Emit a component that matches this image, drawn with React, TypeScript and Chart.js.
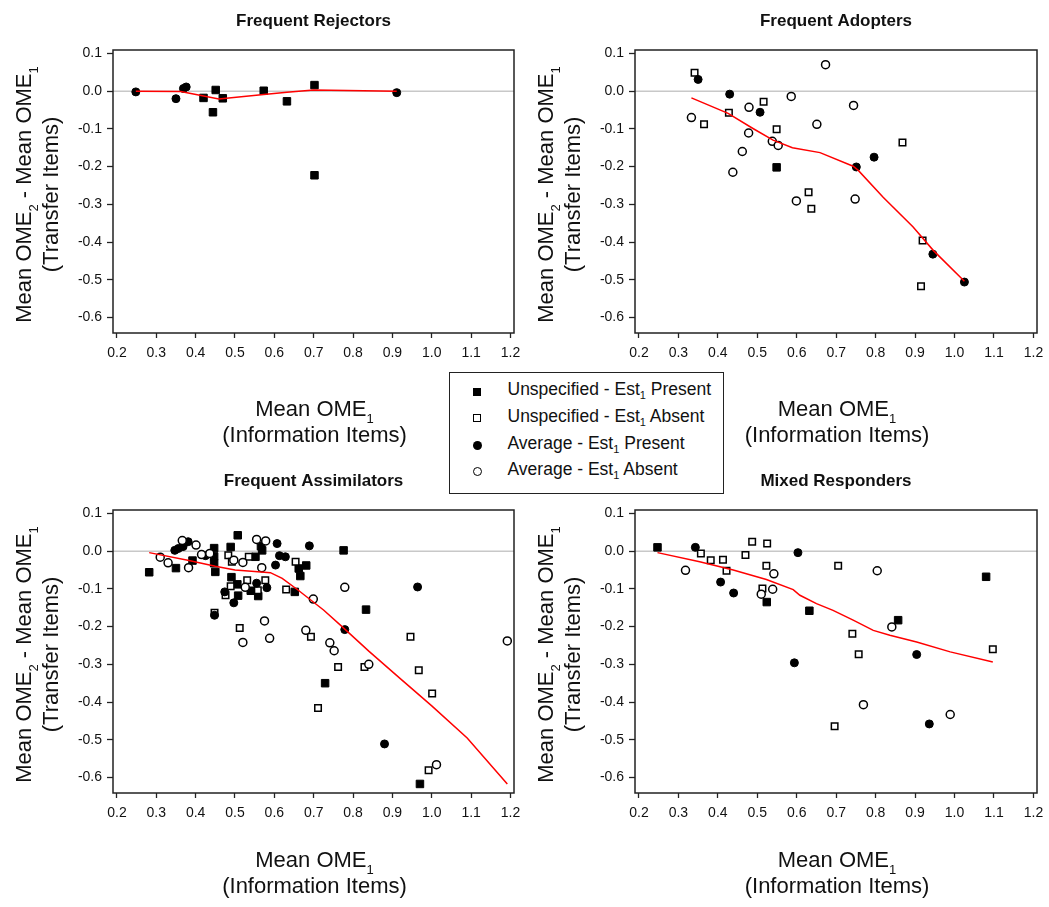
import React, { useEffect, useRef } from 'react';
import { Chart, registerables } from 'chart.js';

Chart.register(...registerables);

const FONT = '"Liberation Sans", Arial, Helvetica, sans-serif';

// ---------- axis ticks ----------
const xTickValues = [0.2, 0.3, 0.4, 0.5, 0.6, 0.7, 0.8, 0.9, 1.0, 1.1, 1.2];
const yTickValues = [0.1, 0.0, -0.1, -0.2, -0.3, -0.4, -0.5, -0.6];
const X_MIN = 0.19;
const X_MAX = 1.209;
const Y_MIN = -0.641;
const Y_MAX = 0.109;

// ---------- legend / titles ----------
const panelTitles = ['Frequent Rejectors', 'Frequent Adopters', 'Frequent Assimilators', 'Mixed Responders'];
const seriesKinds = ['Unspecified', 'Unspecified', 'Average', 'Average'];
const seriesStatus = ['Present', 'Absent', 'Present', 'Absent'];

type Pt = [number, number];

// ---------- Frequent Rejectors ----------
const rejUnspPresent: Pt[] = [[0.420, -0.018], [0.451, 0.003], [0.444, -0.056], [0.469, -0.019], [0.573, 0.001], [0.632, -0.027], [0.702, 0.016], [0.702, -0.223]];
const rejUnspAbsent: Pt[] = [];
const rejAvgPresent: Pt[] = [[0.248, -0.002], [0.350, -0.020], [0.369, 0.007], [0.376, 0.011], [0.911, -0.004]];
const rejAvgAbsent: Pt[] = [];
const rejLowess: Pt[] = [[0.248, 0.0], [0.362, -0.001], [0.459, -0.021], [0.573, -0.009], [0.632, -0.003], [0.700, 0.003], [0.911, 0.0]];

// ---------- Frequent Adopters ----------
const adoUnspPresent: Pt[] = [[0.549, -0.202]];
const adoUnspAbsent: Pt[] = [[0.341, 0.049], [0.365, -0.088], [0.428, -0.057], [0.516, -0.028], [0.549, -0.101], [0.630, -0.268], [0.637, -0.312], [0.868, -0.136], [0.919, -0.396], [0.915, -0.517]];
const adoAvgPresent: Pt[] = [[0.350, 0.031], [0.430, -0.008], [0.507, -0.056], [0.751, -0.201], [0.796, -0.175], [0.945, -0.432], [1.025, -0.506]];
const adoAvgAbsent: Pt[] = [[0.333, -0.070], [0.479, -0.043], [0.478, -0.111], [0.538, -0.133], [0.553, -0.144], [0.462, -0.160], [0.438, -0.215], [0.586, -0.014], [0.651, -0.088], [0.673, 0.070], [0.599, -0.291], [0.744, -0.038], [0.748, -0.286]];
const adoLowess: Pt[] = [[0.333, -0.018], [0.426, -0.059], [0.489, -0.099], [0.540, -0.130], [0.589, -0.150], [0.659, -0.163], [0.743, -0.199], [0.756, -0.210], [0.819, -0.281], [0.895, -0.360], [0.946, -0.422], [1.025, -0.504]];

// ---------- Frequent Assimilators ----------
const asmUnspPresent: Pt[] = [[0.282, -0.056], [0.350, -0.045], [0.392, -0.025], [0.447, 0.008], [0.447, -0.014], [0.447, -0.032], [0.450, -0.055], [0.489, 0.011], [0.507, 0.042], [0.552, -0.015], [0.566, 0.013], [0.569, 0.002], [0.662, -0.046], [0.681, -0.038], [0.666, -0.066], [0.776, 0.002], [0.833, -0.155], [0.729, -0.350], [0.970, -0.617], [0.491, -0.069], [0.506, -0.088], [0.508, -0.118], [0.540, -0.105], [0.559, -0.119], [0.652, -0.108]];
const asmUnspAbsent: Pt[] = [[0.483, -0.011], [0.492, -0.028], [0.535, -0.015], [0.654, -0.028], [0.489, -0.093], [0.476, -0.117], [0.531, -0.077], [0.558, -0.104], [0.577, -0.077], [0.630, -0.102], [0.448, -0.163], [0.512, -0.204], [0.693, -0.227], [0.762, -0.307], [0.829, -0.307], [0.711, -0.416], [0.946, -0.227], [0.967, -0.316], [1.001, -0.377], [0.992, -0.581]];
const asmAvgPresent: Pt[] = [[0.347, 0.002], [0.356, 0.007], [0.368, 0.012], [0.381, 0.025], [0.425, -0.012], [0.474, -0.108], [0.497, -0.137], [0.555, -0.085], [0.581, -0.097], [0.607, 0.020], [0.689, 0.014], [0.603, -0.037], [0.613, -0.012], [0.628, -0.015], [0.448, -0.170], [0.779, -0.208], [0.964, -0.095], [0.880, -0.511]];
const asmAvgAbsent: Pt[] = [[0.310, -0.016], [0.330, -0.031], [0.366, 0.028], [0.401, 0.016], [0.382, -0.044], [0.415, -0.009], [0.436, -0.006], [0.497, -0.024], [0.520, -0.030], [0.555, 0.031], [0.578, 0.027], [0.568, -0.044], [0.779, -0.096], [0.526, -0.096], [0.699, -0.127], [0.520, -0.242], [0.575, -0.185], [0.588, -0.231], [0.680, -0.210], [0.741, -0.243], [0.752, -0.264], [0.840, -0.300], [1.012, -0.566], [1.192, -0.238]];
const asmLowess: Pt[] = [[0.282, -0.004], [0.380, -0.024], [0.450, -0.040], [0.500, -0.050], [0.550, -0.054], [0.590, -0.057], [0.620, -0.072], [0.660, -0.103], [0.725, -0.156], [0.770, -0.198], [0.840, -0.265], [0.920, -0.338], [1.000, -0.410], [1.090, -0.495], [1.192, -0.617]];

// ---------- Mixed Responders ----------
const mixUnspPresent: Pt[] = [[0.247, 0.010], [0.524, -0.135], [0.632, -0.158], [0.857, -0.183], [1.080, -0.068]];
const mixUnspAbsent: Pt[] = [[0.357, -0.006], [0.382, -0.024], [0.413, -0.023], [0.422, -0.052], [0.470, -0.010], [0.487, 0.025], [0.525, 0.020], [0.523, -0.039], [0.513, -0.099], [0.705, -0.039], [0.696, -0.464], [0.741, -0.219], [0.757, -0.273], [1.097, -0.260]];
const mixAvgPresent: Pt[] = [[0.343, 0.010], [0.407, -0.082], [0.440, -0.111], [0.603, -0.004], [0.594, -0.296], [0.904, -0.274], [0.936, -0.458]];
const mixAvgAbsent: Pt[] = [[0.318, -0.051], [0.542, -0.060], [0.510, -0.114], [0.539, -0.101], [0.769, -0.407], [0.804, -0.052], [0.841, -0.201], [0.989, -0.433]];
const mixLowess: Pt[] = [[0.247, -0.004], [0.354, -0.028], [0.439, -0.050], [0.523, -0.075], [0.591, -0.102], [0.608, -0.117], [0.650, -0.139], [0.692, -0.157], [0.743, -0.183], [0.794, -0.210], [0.836, -0.223], [0.904, -0.241], [0.989, -0.267], [1.097, -0.294]];

// ---------- layout ----------
interface PanelDef {
  title: string;
  series: Pt[][]; // unspPresent, unspAbsent, avgPresent, avgAbsent
  lowess: Pt[];
  left: number; top: number; width: number; height: number;
  area: { l: number; t: number; r: number; b: number };
  xTitleOffset: number;
}

const X_AXIS_H = 30;

const panels: PanelDef[] = [
  { title: panelTitles[0], series: [rejUnspPresent, rejUnspAbsent, rejAvgPresent, rejAvgAbsent], lowess: rejLowess,
    left: 0, top: 0, width: 524, height: 453, area: { l: 113, t: 50, r: 514, b: 333 }, xTitleOffset: 83 },
  { title: panelTitles[1], series: [adoUnspPresent, adoUnspAbsent, adoAvgPresent, adoAvgAbsent], lowess: adoLowess,
    left: 524, top: 0, width: 525, height: 453, area: { l: 111, t: 50, r: 513, b: 333 }, xTitleOffset: 83 },
  { title: panelTitles[2], series: [asmUnspPresent, asmUnspAbsent, asmAvgPresent, asmAvgAbsent], lowess: asmLowess,
    left: 0, top: 453, width: 524, height: 454, area: { l: 113, t: 57, r: 514, b: 340 }, xTitleOffset: 74 },
  { title: panelTitles[3], series: [mixUnspPresent, mixUnspAbsent, mixAvgPresent, mixAvgAbsent], lowess: mixLowess,
    left: 524, top: 453, width: 525, height: 454, area: { l: 111, t: 57, r: 513, b: 340 }, xTitleOffset: 74 },
];

type Part = { t: string; sub?: boolean };
const yTitle1: Part[] = [{ t: 'Mean OME' }, { t: '2', sub: true }, { t: ' - Mean OME' }, { t: '1', sub: true }];
const yTitle2: Part[] = [{ t: '(Transfer Items)' }];
const xTitle1: Part[] = [{ t: 'Mean OME' }, { t: '1', sub: true }];
const xTitle2: Part[] = [{ t: '(Information Items)' }];

function drawRich(ctx: CanvasRenderingContext2D, parts: Part[], x: number, y: number) {
  const main = `22px ${FONT}`;
  const sub = `13px ${FONT}`;
  let total = 0;
  for (const p of parts) {
    ctx.font = p.sub ? sub : main;
    total += ctx.measureText(p.t).width;
  }
  let cx = x - total / 2;
  ctx.textAlign = 'left';
  ctx.textBaseline = 'alphabetic';
  for (const p of parts) {
    ctx.font = p.sub ? sub : main;
    ctx.fillText(p.t, cx, p.sub ? y + 7 : y);
    cx += ctx.measureText(p.t).width;
  }
}

function makeDecor(p: PanelDef) {
  return {
    id: 'decor',
    beforeDatasetsDraw(chart: any) {
      const { ctx, chartArea } = chart;
      const y0 = chart.scales.y.getPixelForValue(0);
      ctx.save();
      ctx.strokeStyle = '#c8c8c8';
      ctx.lineWidth = 1.5;
      ctx.beginPath();
      ctx.moveTo(chartArea.left, y0);
      ctx.lineTo(chartArea.right, y0);
      ctx.stroke();
      ctx.restore();
    },
    afterDraw(chart: any) {
      const { ctx, chartArea } = chart;
      ctx.save();
      ctx.strokeStyle = '#222';
      ctx.lineWidth = 1.5;
      ctx.strokeRect(chartArea.left, chartArea.top, chartArea.right - chartArea.left, chartArea.bottom - chartArea.top);
      ctx.fillStyle = '#111';
      // panel title
      const cx = (chartArea.left + chartArea.right) / 2;
      ctx.font = `bold 17px ${FONT}`;
      ctx.textAlign = 'center';
      ctx.textBaseline = 'alphabetic';
      ctx.fillText(p.title, cx, chartArea.top - 24);
      // x title
      drawRich(ctx, xTitle1, cx + 1, chartArea.bottom + p.xTitleOffset);
      drawRich(ctx, xTitle2, cx + 1, chartArea.bottom + p.xTitleOffset + 26);
      // y title
      const cy = (chartArea.top + chartArea.bottom) / 2 + 3;
      ctx.save();
      ctx.translate(chartArea.left - 82, cy);
      ctx.rotate(-Math.PI / 2);
      drawRich(ctx, yTitle1, 0, 0);
      ctx.restore();
      ctx.save();
      ctx.translate(chartArea.left - 55, cy);
      ctx.rotate(-Math.PI / 2);
      drawRich(ctx, yTitle2, 0, 0);
      ctx.restore();
      ctx.restore();
    },
  };
}

const toXY = (pts: Pt[]) => pts.map(([x, y]) => ({ x, y }));

function buildChart(canvas: HTMLCanvasElement, p: PanelDef) {
  const tickFont = { family: FONT, size: 14 };
  return new Chart(canvas, {
    type: 'scatter',
    data: {
      datasets: [
        {
          label: 'LOWESS', data: toXY(p.lowess), showLine: true, borderColor: '#ff0000', borderWidth: 1.5,
          pointRadius: 0, tension: 0, fill: false,
        },
        {
          label: `${seriesKinds[3]} - Est1 ${seriesStatus[3]}`, data: toXY(p.series[3]), pointStyle: 'circle',
          pointRadius: 4, backgroundColor: '#fff', borderColor: '#000', borderWidth: 1.5,
        },
        {
          label: `${seriesKinds[2]} - Est1 ${seriesStatus[2]}`, data: toXY(p.series[2]), pointStyle: 'circle',
          pointRadius: 4, backgroundColor: '#000', borderColor: '#000', borderWidth: 1,
        },
        {
          label: `${seriesKinds[1]} - Est1 ${seriesStatus[1]}`, data: toXY(p.series[1]), pointStyle: 'rect',
          pointRadius: 4.6, backgroundColor: '#fff', borderColor: '#000', borderWidth: 1.5,
        },
        {
          label: `${seriesKinds[0]} - Est1 ${seriesStatus[0]}`, data: toXY(p.series[0]), pointStyle: 'rect',
          pointRadius: 5.3, backgroundColor: '#000', borderColor: '#000', borderWidth: 1,
        },
      ],
    },
    options: {
      responsive: false,
      animation: false,
      devicePixelRatio: 1,
      events: [],
      layout: {
        padding: { left: 0, top: p.area.t, right: p.width - p.area.r, bottom: p.height - p.area.b - X_AXIS_H },
      },
      plugins: { legend: { display: false }, title: { display: false }, tooltip: { enabled: false } },
      scales: {
        x: {
          type: 'linear', position: 'bottom', min: X_MIN, max: X_MAX,
          afterBuildTicks: (s: any) => { s.ticks = xTickValues.map((v) => ({ value: v })); },
          afterFit: (s: any) => { s.height = X_AXIS_H; s.paddingLeft = 0; s.paddingRight = 0; },
          grid: { drawOnChartArea: false, drawTicks: true, tickLength: 5, tickColor: '#222', tickWidth: 1.3, color: '#222' },
          border: { display: false },
          ticks: { autoSkip: false, maxRotation: 0, padding: 7, color: '#111', font: tickFont,
            callback: (v: any) => Number(v).toFixed(1) },
        },
        y: {
          type: 'linear', position: 'left', min: Y_MIN, max: Y_MAX,
          afterBuildTicks: (s: any) => { s.ticks = yTickValues.map((v) => ({ value: v })); },
          afterFit: (s: any) => { s.width = p.area.l; s.paddingTop = 0; s.paddingBottom = 0; },
          grid: { drawOnChartArea: false, drawTicks: true, tickLength: 6, tickColor: '#222', tickWidth: 1.3, color: '#222' },
          border: { display: false },
          ticks: { autoSkip: false, padding: 5, color: '#111', font: tickFont,
            callback: (v: any) => Number(v).toFixed(1) },
        },
      },
    } as any,
    plugins: [makeDecor(p)],
  });
}

const legendMarkers = [
  { w: 8, h: 8, bg: '#000', border: 'none', radius: 0 },
  { w: 8, h: 8, bg: '#fff', border: '1.5px solid #000', radius: 0 },
  { w: 9, h: 9, bg: '#000', border: 'none', radius: '50%' },
  { w: 9, h: 9, bg: '#fff', border: '1.5px solid #000', radius: '50%' },
];

export default function App() {
  const refs = [useRef<HTMLCanvasElement>(null), useRef<HTMLCanvasElement>(null), useRef<HTMLCanvasElement>(null), useRef<HTMLCanvasElement>(null)];

  useEffect(() => {
    const charts = panels.map((p, i) => buildChart(refs[i].current as HTMLCanvasElement, p));
    return () => charts.forEach((c) => c.destroy());
  }, []);

  return (
    <div style={{ position: 'absolute', left: 0, top: 0, width: 1049, height: 907, background: '#fff', overflow: 'hidden' }}>
      {panels.map((p, i) => (
        <canvas key={i} ref={refs[i]} width={p.width} height={p.height}
          style={{ position: 'absolute', left: p.left, top: p.top, width: p.width, height: p.height }} />
      ))}
      <div style={{ position: 'absolute', left: 449, top: 372, width: 275, height: 122, border: '1.5px solid #222',
        boxSizing: 'border-box', background: '#fff', fontFamily: FONT, fontSize: 17.5, color: '#111' }}>
        {seriesKinds.map((k, i) => {
          const textCenter = 389.5 + i * 26.8 - 373.5;
          const m = legendMarkers[i];
          return (
            <React.Fragment key={i}>
              <div style={{ position: 'absolute', left: 477.7 - 449 - 1.5 - m.w / 2, top: textCenter + 2.5 - m.h / 2,
                width: m.w, height: m.h, background: m.bg, border: m.border, borderRadius: m.radius, boxSizing: 'border-box' }} />
              <div style={{ position: 'absolute', left: 508 - 449 - 1.5, top: textCenter - 10, height: 20, lineHeight: '20px', whiteSpace: 'nowrap' }}>
                {k} - Est<span style={{ fontSize: 11, position: 'relative', top: 4 }}>1</span> {seriesStatus[i]}
              </div>
            </React.Fragment>
          );
        })}
      </div>
    </div>
  );
}
